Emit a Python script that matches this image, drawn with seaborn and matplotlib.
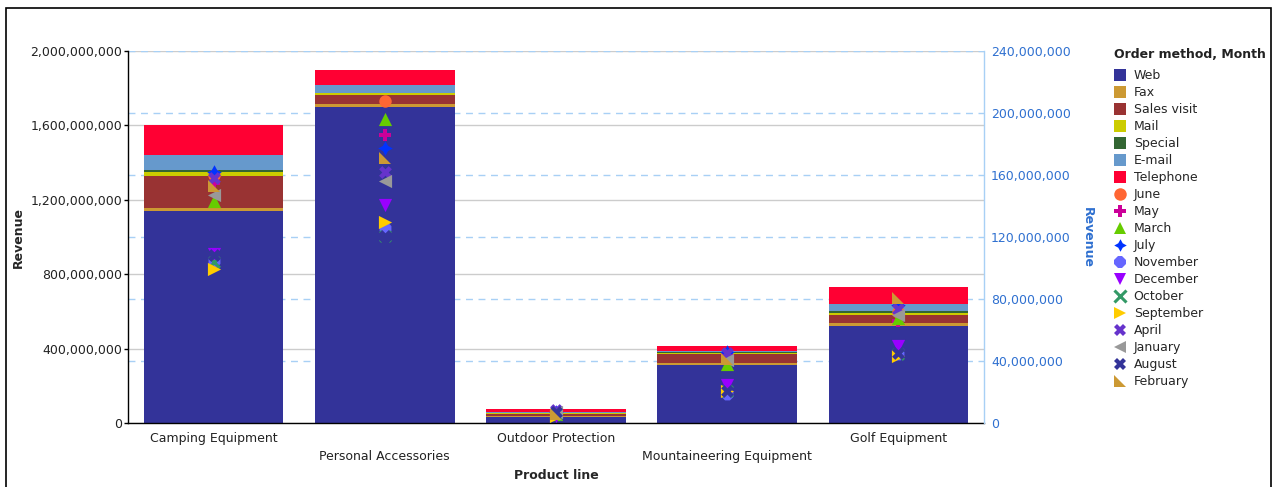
import numpy as np
import matplotlib
matplotlib.use("Agg")
import matplotlib.pyplot as plt
from matplotlib.lines import Line2D
from matplotlib.patches import Rectangle
from matplotlib.ticker import FuncFormatter, FixedLocator
import seaborn as sns

# ---------------- data ----------------
categories = ["Camping Equipment", "Personal Accessories", "Outdoor Protection",
              "Mountaineering Equipment", "Golf Equipment"]

methods = ["Web", "Fax", "Sales visit", "Mail", "Special", "E-mail", "Telephone"]
web         = [1139e6, 1697e6, 35e6, 313e6, 523e6]
fax         = [20e6, 18e6, 4e6, 12e6, 14e6]
sales_visit = [169e6, 50e6, 13e6, 47e6, 45e6]
mail        = [22e6, 7e6, 2e6, 3e6, 12e6]
special     = [11e6, 3e6, 1.5e6, 6e6, 9e6]
email       = [78e6, 41e6, 5e6, 7e6, 36e6]
telephone   = [162e6, 83e6, 18e6, 27e6, 92e6]

months = ["June", "May", "March", "July", "November", "December", "October",
          "September", "April", "January", "August", "February"]
june      = [160e6, 208e6, 6.0e6, 43e6, 72e6]
may       = [155e6, 186e6, 6.5e6, 44e6, 66e6]
march     = [143.5e6, 196e6, 6.0e6, 38.5e6, 68e6]
july      = [162e6, 177.5e6, 7.0e6, 46e6, 76e6]
november  = [104.5e6, 126e6, 7.5e6, 19e6, 44.5e6]
december  = [109e6, 141e6, 5.0e6, 25e6, 49.8e6]
october   = [104e6, 121e6, 6.0e6, 20.5e6, 44.5e6]
september = [99.5e6, 130e6, 5.0e6, 20.5e6, 43.4e6]
april     = [158e6, 162e6, 8.5e6, 45e6, 74e6]
january   = [147e6, 156e6, 7.0e6, 41e6, 70e6]
august    = [108.5e6, 121e6, 7.0e6, 21e6, 45e6]
february  = [153e6, 171e6, 6.0e6, 41.5e6, 81e6]

left_ticks = [0, 400e6, 800e6, 1200e6, 1600e6, 2000e6]
right_ticks = [0, 40e6, 80e6, 120e6, 160e6, 200e6, 240e6]
legend_title = "Order method, Month"

# ---------------- styles ----------------
method_series = [web, fax, sales_visit, mail, special, email, telephone]
method_colors = ["#333399", "#CC9933", "#993333", "#CCCC00", "#336633", "#6699CC", "#FF0033"]

month_series = [june, may, march, july, november, december, october,
                september, april, january, august, february]
month_colors = ["#FF6633", "#CC0099", "#66CC00", "#0033FF", "#6666FF", "#9900FF",
                "#339966", "#FFCC00", "#6633CC", "#999999", "#333399", "#CC9933"]
rtri = [(-1, 1), (-1, -1), (1, -1)]
month_markers = ["o", "P", "^", (4, 1, 0), "8", "v", "x", ">", "X", "<", "X", rtri]
month_sizes = [80, 85, 90, 110, 85, 90, 60, 90, 85, 90, 85, 80]

sns.set_style("white")
plt.rcParams["font.family"] = ["DejaVu Sans"]
plt.rcParams["font.size"] = 9

fig = plt.figure(figsize=(12.74, 4.87), dpi=100)
ax = fig.add_axes([128 / 1274, 1 - 423.3 / 487, (984 - 128) / 1274, (423.3 - 51) / 487])

# stacked bars (overlaid cumulative totals, top layer first)
cum = np.cumsum(np.array(method_series), axis=0)
for i in reversed(range(len(methods))):
    sns.barplot(x=categories, y=cum[i], color=method_colors[i], saturation=1,
                width=0.815, errorbar=None, linewidth=0, ax=ax, zorder=2)

ax.set_xlim(-0.5, len(categories) - 0.5)
ax.set_ylim(0, 2000e6)
ax.yaxis.set_major_locator(FixedLocator(left_ticks))
ax.yaxis.set_major_formatter(FuncFormatter(lambda v, p: f"{v:,.0f}"))
ax.set_axisbelow(True)
ax.yaxis.grid(True, color="#cccccc", linewidth=1)
ax.xaxis.grid(False)
for v in right_ticks[1:]:
    ax.axhline(v * 2000e6 / 240e6, color="#a8d0f5", linewidth=1,
               linestyle=(0, (5, 4)), zorder=0.8)

ax.set_xticks(range(len(categories)))
ax.set_xticklabels([c if i % 2 == 0 else "\n" + c for i, c in enumerate(categories)],
                   fontsize=9, color="#222222", linespacing=1.55)
ax.tick_params(axis="x", length=0, pad=6)
ax.tick_params(axis="y", length=3, width=1, color="black", pad=1, labelsize=9,
               labelcolor="#222222", left=True)
for s in ["top", "right"]:
    ax.spines[s].set_visible(False)
for s in ["left", "bottom"]:
    ax.spines[s].set_color("black")
    ax.spines[s].set_linewidth(1)
ax.set_xlabel("Product line", fontsize=9, fontweight="bold", labelpad=4)
ax.set_ylabel("Revenue", fontsize=9, fontweight="bold", labelpad=4)

# month markers on the secondary axis
ax2 = ax.twinx()
for vals, c, m, s in zip(month_series, month_colors, month_markers, month_sizes):
    if m == "x":
        sns.scatterplot(x=categories, y=vals, marker=m, color=c, s=s, linewidth=2.2,
                        ax=ax2, zorder=3, legend=False)
    else:
        sns.scatterplot(x=categories, y=vals, marker=m, color=c, s=s, linewidth=0,
                        ax=ax2, zorder=3, legend=False)
ax2.set_ylim(0, 240e6)
ax.set_xlim(-0.5, len(categories) - 0.5)
ax2.yaxis.set_major_locator(FixedLocator(right_ticks))
ax2.yaxis.set_major_formatter(FuncFormatter(lambda v, p: f"{v:,.0f}"))
ax2.grid(False)
ax2.tick_params(axis="y", length=0, pad=5, labelsize=9, labelcolor="#2f70d0")
for s in ["top", "left", "bottom"]:
    ax2.spines[s].set_visible(False)
ax2.spines["right"].set_color("#a8d0f5")
ax2.spines["right"].set_linewidth(1)
ax2.set_ylabel("Revenue", fontsize=9, fontweight="bold", color="#2f70d0",
               rotation=270, labelpad=7, va="bottom")
ax2.set_xlabel("")

# legend
handles = []
labels = []
for name, c in zip(methods, method_colors):
    handles.append(Line2D([], [], marker="s", color=c, linestyle="", markersize=8.5,
                          markeredgewidth=0))
    labels.append(name)
for name, c, m in zip(months, month_colors, month_markers):
    if m == "x":
        handles.append(Line2D([], [], marker=m, color=c, linestyle="", markersize=8,
                              markeredgewidth=2.2))
    else:
        handles.append(Line2D([], [], marker=m, color=c, linestyle="", markersize=9,
                              markeredgewidth=0))
    labels.append(name)
fig.text(1114 / 1274, 1 - 55 / 487, legend_title, fontsize=9, fontweight="bold",
         color="#222222", ha="left", va="center")
fig.legend(handles, labels, loc="upper left", bbox_to_anchor=(1107.5 / 1274, 1 - 63 / 487),
           frameon=False, fontsize=9, handlelength=1.0, handletextpad=0.6,
           labelspacing=0.32, borderpad=0.0)

# outer frame
fig.add_artist(Rectangle((6 / 1274, -0.05), (1271 - 6) / 1274, 1.05 - 8 / 487,
                         transform=fig.transFigure, fill=False, edgecolor="black",
                         linewidth=1.2))

fig.savefig("out.png", dpi=100)
